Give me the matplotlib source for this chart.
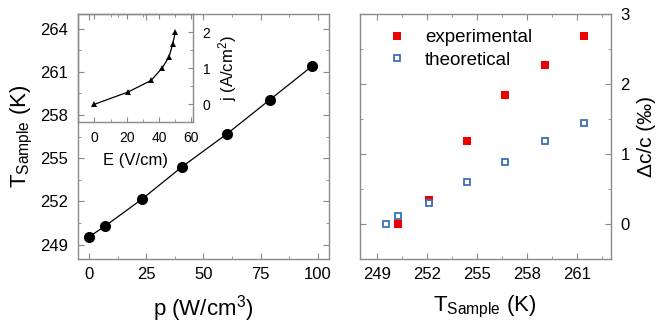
import matplotlib
matplotlib.use("Agg")
import matplotlib.pyplot as plt
from matplotlib.ticker import MultipleLocator

plt.rcParams["font.family"] = ["Liberation Sans", "DejaVu Sans"]
plt.rcParams["mathtext.default"] = "regular"

# main curve: sample temperature vs power density
p_vals = [0, 7, 23, 40.6, 60.4, 79.2, 97.7]
t_sample = [249.55, 250.3, 252.15, 254.4, 256.7, 259.07, 261.4]

# inset: current density vs field
e_field = [0, 20.8, 35.1, 41.9, 46.3, 48.5, 50.2]
j_vals = [0, 0.34, 0.66, 1.0, 1.32, 1.67, 2.0]

# right panel: relative change of sound velocity
t_exp = [250.3, 252.15, 254.4, 256.7, 259.07, 261.4]
dc_exp = [0.0, 0.35, 1.18, 1.85, 2.27, 2.69]
t_theo = [249.55, 250.3, 252.15, 254.4, 256.7, 259.07, 261.4]
dc_theo = [0.0, 0.11, 0.30, 0.60, 0.89, 1.19, 1.44]

SPINE = "#8a8a8a"


def style(ax, size=12, length=4, pad=6):
    for s in ax.spines.values():
        s.set_edgecolor(SPINE)
        s.set_linewidth(1.0)
    ax.tick_params(which="both", direction="in", top=True, right=True,
                   color=SPINE, labelsize=size, pad=pad)
    ax.tick_params(which="major", length=length)
    ax.tick_params(which="minor", length=length * 0.6)


fig = plt.figure(figsize=(6.58, 3.28), dpi=100)
fig.patch.set_facecolor("white")

ax1 = fig.add_axes([0.1185, 0.2104, 0.3815, 0.7466])
ax1.plot(p_vals, t_sample, color="black", linewidth=0.9, marker="o",
         markersize=8, markerfacecolor="black", markeredgewidth=0)
ax1.set_xlim(-5, 105)
ax1.set_ylim(248, 265)
ax1.xaxis.set_major_locator(MultipleLocator(25))
ax1.xaxis.set_minor_locator(MultipleLocator(12.5))
ax1.yaxis.set_major_locator(MultipleLocator(3))
ax1.yaxis.set_minor_locator(MultipleLocator(1.5))
style(ax1)
ax1.tick_params(axis="y", pad=7)
ax1.set_xlabel("p (W/cm$^3$)", fontsize=16, labelpad=8)
ax1.set_ylabel("T$_{Sample}$ (K)", fontsize=16, labelpad=4)

ins = fig.add_axes([0.119, 0.627, 0.174, 0.33])
ins.patch.set_alpha(0)
ins.plot(e_field, j_vals, color="black", linewidth=0.9, marker="^",
         markersize=4.5, markeredgewidth=0)
ins.set_xlim(-10, 61)
ins.set_ylim(-0.5, 2.5)
ins.xaxis.set_major_locator(MultipleLocator(20))
ins.xaxis.set_minor_locator(MultipleLocator(10))
ins.yaxis.set_major_locator(MultipleLocator(1))
ins.yaxis.set_minor_locator(MultipleLocator(0.5))
style(ins, size=10, length=3.5, pad=6)
ins.yaxis.tick_right()
ins.tick_params(which="both", direction="in", top=True, right=True,
                left=False, labelleft=False, labelright=True)
ins.tick_params(axis="y", pad=7)
ins.yaxis.set_label_position("right")
ins.set_xlabel("E (V/cm)", fontsize=12, labelpad=6)
ins.set_ylabel("j (A/cm$^2$)", fontsize=12, labelpad=4)

ax2 = fig.add_axes([0.547, 0.2104, 0.381, 0.7466])
ax2.plot(t_exp, dc_exp, linestyle="none", marker="s", markersize=5.5,
         color="#ee0000", markeredgewidth=0, label="experimental")
ax2.plot(t_theo, dc_theo, linestyle="none", marker="s", markersize=5,
         markerfacecolor="white", markeredgecolor="#3d6eb4",
         markeredgewidth=1.3, label="theoretical")
ax2.set_xlim(248, 263)
ax2.set_ylim(-0.5, 3)
ax2.xaxis.set_major_locator(MultipleLocator(3))
ax2.xaxis.set_minor_locator(MultipleLocator(1.5))
ax2.yaxis.set_major_locator(MultipleLocator(1))
ax2.yaxis.set_minor_locator(MultipleLocator(0.5))
style(ax2)
ax2.tick_params(axis="y", labelleft=False, labelright=True, pad=7)
ax2.yaxis.set_label_position("right")
ax2.set_xlabel("T$_{Sample}$ (K)", fontsize=16, labelpad=8)
ax2.set_ylabel("\u0394c/c (\u2030)", fontsize=15, labelpad=5)
ax2.legend(loc="upper left", bbox_to_anchor=(0.08, 0.97), frameon=False,
           fontsize=13.5, handlelength=1.0, handletextpad=1.0,
           labelspacing=0.3, borderaxespad=0)

fig.savefig("out.png", dpi=100, facecolor="white")
